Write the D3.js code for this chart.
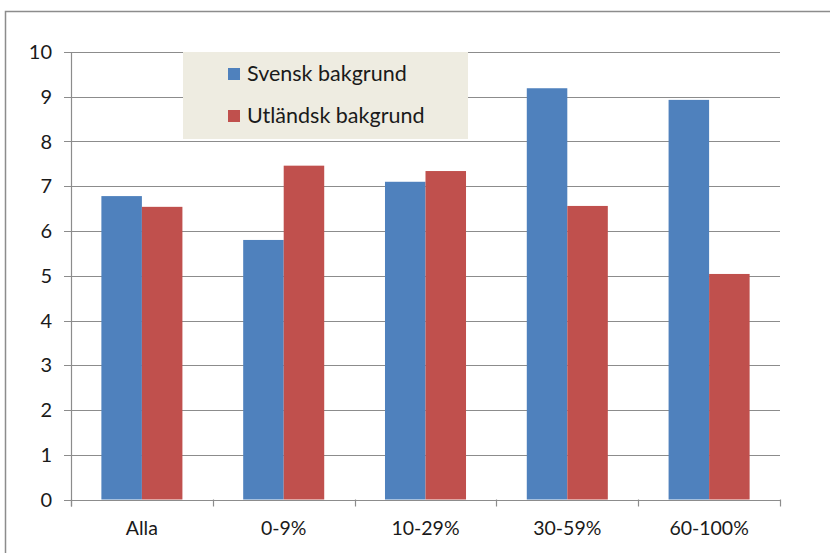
<!DOCTYPE html>
<html>
<head>
<meta charset="utf-8">
<script src="https://cdn.jsdelivr.net/npm/d3@7"></script>
<style>
  body { margin: 0; background: #fff; }
  text { font-family: Lato, "Open Sans", sans-serif; fill: #1a1a1a; }
</style>
</head>
<body>
<div id="chart"></div>
<script>
const categories = ["Alla", "0-9%", "10-29%", "30-59%", "60-100%"];
const seriesNames = ["Svensk bakgrund", "Utländsk bakgrund"];
const svensk = [6.78, 5.80, 7.10, 9.19, 8.93];
const utlandsk = [6.54, 7.46, 7.34, 6.56, 5.04];
const yTicks = [0, 1, 2, 3, 4, 5, 6, 7, 8, 9, 10];

const colors = ["#4f81bd", "#c0504d"];
const width = 830, height = 553;
const plot = { left: 71, right: 780, top: 52, bottom: 499.5 };

const svg = d3.select("#chart")
  .append("svg")
    .attr("width", width)
    .attr("height", height);

// outer chart border (cut off at right and bottom)
svg.append("rect")
  .attr("x", 5.5).attr("y", 11.5)
  .attr("width", 840).attr("height", 560)
  .attr("fill", "none")
  .attr("stroke", "#8c8c8c")
  .attr("stroke-width", 1.5);

const x0 = d3.scaleBand().domain(categories).range([plot.left, plot.right]).paddingInner(0).paddingOuter(0);
// Excel gap width 150%: bar = band / 3.5
const barW = x0.bandwidth() / 3.5;
const yScale = d3.scaleLinear().domain([0, 10]).range([plot.bottom, plot.top]);

// gridlines + y ticks
svg.append("g")
  .selectAll("line")
  .data(yTicks)
  .enter()
  .append("line")
    .attr("x1", plot.left - 7)
    .attr("x2", plot.right)
    .attr("y1", d => Math.round(yScale(d)) + 0.5)
    .attr("y2", d => Math.round(yScale(d)) + 0.5)
    .attr("stroke", "#8c8c8c")
    .attr("stroke-width", 1.2);

svg.append("g")
  .selectAll("text")
  .data(yTicks)
  .enter()
  .append("text")
    .attr("x", plot.left - 19)
    .attr("y", d => yScale(d))
    .attr("dy", "0.35em")
    .attr("text-anchor", "end")
    .style("font-size", "20px")
    .text(d => d);

// y axis line
svg.append("line")
  .attr("x1", plot.left + 0.5).attr("x2", plot.left + 0.5)
  .attr("y1", plot.top).attr("y2", plot.bottom + 7)
  .attr("stroke", "#8c8c8c").attr("stroke-width", 1.2);

// bars
const data = categories.map((c, i) => ({ cat: c, values: [svensk[i], utlandsk[i]] }));
const groups = svg.selectAll(".cat")
  .data(data)
  .enter()
  .append("g")
    .attr("class", "cat");

groups.selectAll("rect")
  .data(d => d.values.map((v, j) => ({ cat: d.cat, v: v, j: j })))
  .enter()
  .append("rect")
    .attr("x", d => x0(d.cat) + barW * 0.75 + d.j * barW)
    .attr("y", d => yScale(d.v))
    .attr("width", barW)
    .attr("height", d => plot.bottom - yScale(d.v))
    .attr("fill", d => colors[d.j]);

// x axis line + category ticks
svg.append("line")
  .attr("x1", plot.left - 7).attr("x2", plot.right + 0.5)
  .attr("y1", Math.round(plot.bottom) + 0.5).attr("y2", Math.round(plot.bottom) + 0.5)
  .attr("stroke", "#8c8c8c").attr("stroke-width", 1.2);

const bounds = categories.map(c => x0(c)).concat([plot.right]);
svg.append("g")
  .selectAll("line")
  .data(bounds)
  .enter()
  .append("line")
    .attr("x1", d => Math.round(d) + 0.5)
    .attr("x2", d => Math.round(d) + 0.5)
    .attr("y1", plot.bottom)
    .attr("y2", plot.bottom + 7)
    .attr("stroke", "#8c8c8c").attr("stroke-width", 1.2);

svg.append("g")
  .selectAll("text")
  .data(categories)
  .enter()
  .append("text")
    .attr("x", d => x0(d) + x0.bandwidth() / 2)
    .attr("y", 535)
    .attr("text-anchor", "middle")
    .style("font-size", "19.5px")
    .text(d => d);

// legend
const legend = svg.append("g").attr("transform", "translate(183,52)");
legend.append("rect")
  .attr("width", 285).attr("height", 87)
  .attr("fill", "#eeece1");

const items = legend.selectAll(".item")
  .data(seriesNames)
  .enter()
  .append("g")
    .attr("class", "item")
    .attr("transform", (d, i) => `translate(45, ${16 + i * 42})`);

items.append("rect")
  .attr("width", 12).attr("height", 12)
  .attr("fill", (d, i) => colors[i]);

items.append("text")
  .attr("x", 19)
  .attr("y", 13)
  .style("font-size", "21.5px")
  .text(d => d);
</script>
</body>
</html>
